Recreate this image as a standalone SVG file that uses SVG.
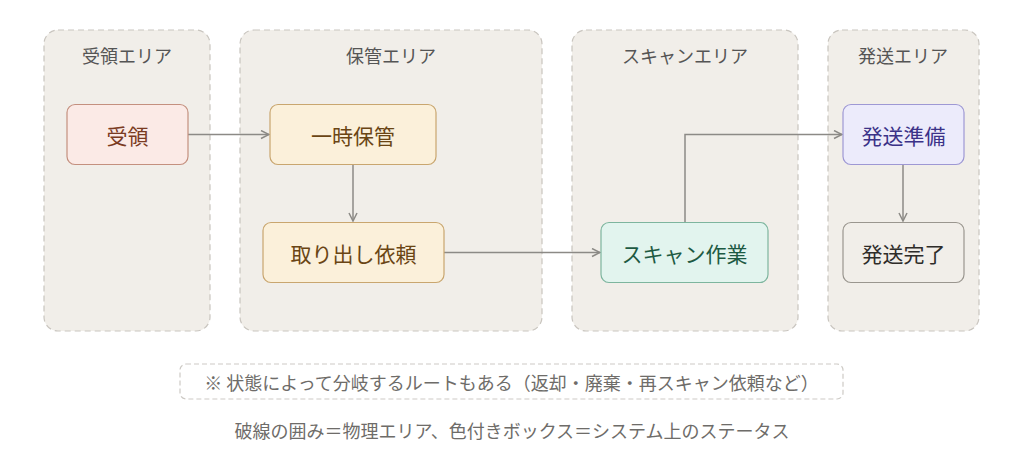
<svg xmlns="http://www.w3.org/2000/svg" width="1024" height="466" viewBox="0 0 1024 466">
<defs>
<style>
text{font-family:"Noto Sans CJK JP","Noto Sans",sans-serif;text-anchor:middle;dominant-baseline:central}
.area{fill:#f1eee9;stroke:#c9c5bf;stroke-width:1.2;stroke-dasharray:6 4}
.atitle{font-size:18px;fill:#555}
.node{stroke-width:1.2}
.ntext{font-size:21px}
.conn{fill:none;stroke:#8c8a86;stroke-width:1.5}
</style>
<marker id="arr" viewBox="0 0 10 10" refX="9" refY="5" markerWidth="10" markerHeight="10" markerUnits="userSpaceOnUse" orient="auto">
<path d="M1,1 L9,5 L1,9" fill="none" stroke="#8c8a86" stroke-width="1.5"/>
</marker>
</defs>
<rect width="1024" height="466" fill="#ffffff"/>
<g id="area-receive"><rect class="area" x="44" y="30" width="166" height="301" rx="14"/><text class="atitle" x="127" y="55">受領エリア</text></g>
<g id="area-storage"><rect class="area" x="240" y="30" width="302" height="301" rx="14"/><text class="atitle" x="391" y="55">保管エリア</text></g>
<g id="area-scan"><rect class="area" x="572" y="30" width="226" height="301" rx="14"/><text class="atitle" x="685" y="55">スキャンエリア</text></g>
<g id="area-ship"><rect class="area" x="828" y="30" width="151" height="301" rx="14"/><text class="atitle" x="903" y="55">発送エリア</text></g>
<g id="connectors">
<path class="conn" d="M188,134.5 H269" marker-end="url(#arr)"/>
<path class="conn" d="M353,165 V221" marker-end="url(#arr)"/>
<path class="conn" d="M444,252.5 H600" marker-end="url(#arr)"/>
<path class="conn" d="M685,222 V134.5 H842" marker-end="url(#arr)"/>
<path class="conn" d="M903,165 V221" marker-end="url(#arr)"/>
</g>
<g id="n-receive"><rect class="node" x="67" y="104.5" width="121" height="60" rx="8" fill="#fbeae6" stroke="#c4907f"/><text class="ntext" x="127.5" y="134.5" fill="#7a3b22">受領</text></g>
<g id="n-temp"><rect class="node" x="270" y="104.5" width="166" height="60" rx="8" fill="#fbf0da" stroke="#c9a66f"/><text class="ntext" x="353" y="134.5" fill="#6a4514">一時保管</text></g>
<g id="n-request"><rect class="node" x="263" y="222.5" width="181" height="60" rx="8" fill="#fbf0da" stroke="#c9a66f"/><text class="ntext" x="353.5" y="252.5" fill="#6a4514">取り出し依頼</text></g>
<g id="n-scan"><rect class="node" x="601" y="222.5" width="167" height="60" rx="8" fill="#e2f4ee" stroke="#7db59e"/><text class="ntext" x="684.5" y="252.5" fill="#1d5a43">スキャン作業</text></g>
<g id="n-prep"><rect class="node" x="843" y="104.5" width="121" height="60" rx="8" fill="#ecebfb" stroke="#9e98d4"/><text class="ntext" x="903.5" y="134.5" fill="#3b3288">発送準備</text></g>
<g id="n-done"><rect class="node" x="843" y="222.5" width="121" height="60" rx="8" fill="#f1eee9" stroke="#9a968f"/><text class="ntext" x="903.5" y="252.5" fill="#2e2c29">発送完了</text></g>
<g id="note"><rect x="180" y="364" width="663" height="35" rx="6" fill="#ffffff" stroke="#cdcac5" stroke-width="1.2" stroke-dasharray="5 3"/><text x="511.5" y="382" font-size="18" fill="#6e6c69">※ 状態によって分岐するルートもある（返却・廃棄・再スキャン依頼など）</text></g>
<text x="512" y="430" font-size="18" fill="#6e6c69">破線の囲み＝物理エリア、色付きボックス＝システム上のステータス</text>
</svg>
